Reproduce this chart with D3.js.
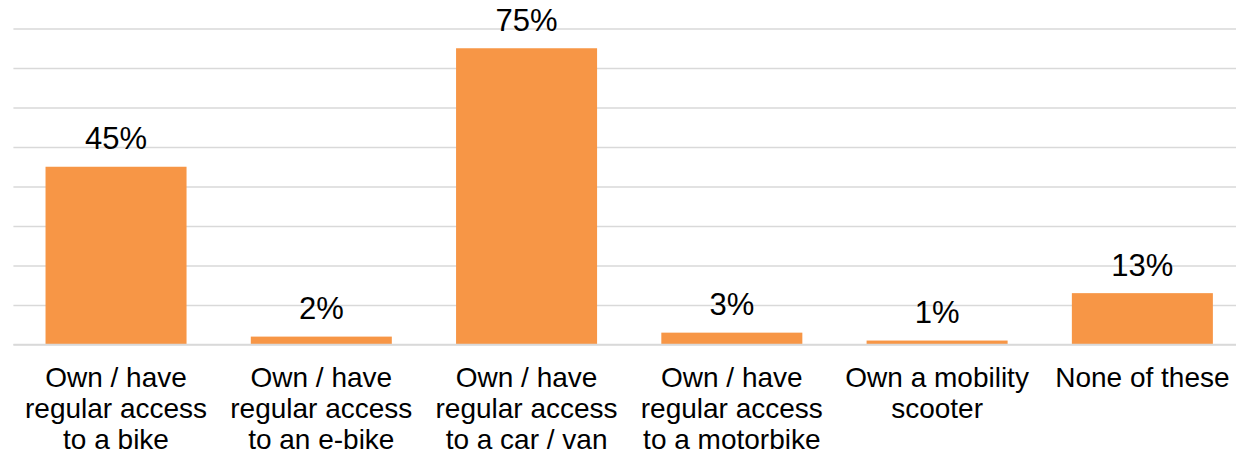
<!DOCTYPE html>
<html>
<head>
<meta charset="utf-8">
<script src="https://cdn.jsdelivr.net/npm/d3@7/dist/d3.min.js"></script>
<style>
  html, body { margin: 0; padding: 0; background: #fff; }
  svg { display: block; }
</style>
</head>
<body>
<div id="chart"></div>
<script>
// Vehicle access categories and share of respondents (%)
const categories = [
  ["Own / have", "regular access", "to a bike"],
  ["Own / have", "regular access", "to an e-bike"],
  ["Own / have", "regular access", "to a car / van"],
  ["Own / have", "regular access", "to a motorbike"],
  ["Own a mobility", "scooter"],
  ["None of these"]
];
const values = [45, 2, 75, 3, 1, 13];
const valueLabels = ["45%", "2%", "75%", "3%", "1%", "13%"];
const gridTicks = [0, 10, 20, 30, 40, 50, 60, 70, 80];

const width = 1236, height = 459;
const margin = { left: 13.4, right: -9, top: 28.5, bottom: 114.5 };

const svg = d3.select("#chart").append("svg")
  .attr("width", width).attr("height", height);

const x = d3.scaleBand()
  .domain(d3.range(values.length))
  .range([margin.left, width - margin.right])
  .paddingInner(0.313)
  .paddingOuter(0.1565);

const y = d3.scaleLinear()
  .domain([0, 80])
  .range([height - margin.bottom, margin.top]);

// horizontal gridlines
const yAxis = d3.axisLeft(y).tickValues(gridTicks)
  .tickSize(-(width - margin.right - margin.left)).tickFormat("");
const gy = svg.append("g")
  .attr("transform", `translate(${margin.left},0)`)
  .call(yAxis);
gy.select(".domain").remove();
gy.selectAll(".tick line").attr("stroke", "#d9d9d9").attr("stroke-width", 1.6);

// bars
svg.append("g").selectAll("rect")
  .data(values)
  .join("rect")
  .attr("x", (d, i) => x(i))
  .attr("width", x.bandwidth())
  .attr("y", d => y(d))
  .attr("height", d => y(0) - y(d))
  .attr("fill", "#F79646");

// baseline
svg.append("line")
  .attr("x1", margin.left).attr("x2", width)
  .attr("y1", y(0)).attr("y2", y(0))
  .attr("stroke", "#d9d9d9").attr("stroke-width", 1.6);

// value labels
svg.append("g").selectAll("text")
  .data(values)
  .join("text")
  .attr("x", (d, i) => x(i) + x.bandwidth() / 2)
  .attr("y", d => y(d) - 17.5)
  .attr("text-anchor", "middle")
  .attr("font-family", "Liberation Sans, Arial, sans-serif")
  .attr("font-size", 31)
  .attr("fill", "#000")
  .text((d, i) => valueLabels[i]);

// category labels
const cat = svg.append("g").selectAll("text")
  .data(categories)
  .join("text")
  .attr("x", (d, i) => x(i) + x.bandwidth() / 2)
  .attr("y", 387)
  .attr("text-anchor", "middle")
  .attr("font-family", "Liberation Sans, Arial, sans-serif")
  .attr("font-size", 28)
  .attr("fill", "#000");
cat.selectAll("tspan")
  .data(d => d)
  .join("tspan")
  .attr("x", function () { return d3.select(this.parentNode).attr("x"); })
  .attr("dy", (d, i) => i === 0 ? 0 : 31)
  .text(d => d);
</script>
</body>
</html>
